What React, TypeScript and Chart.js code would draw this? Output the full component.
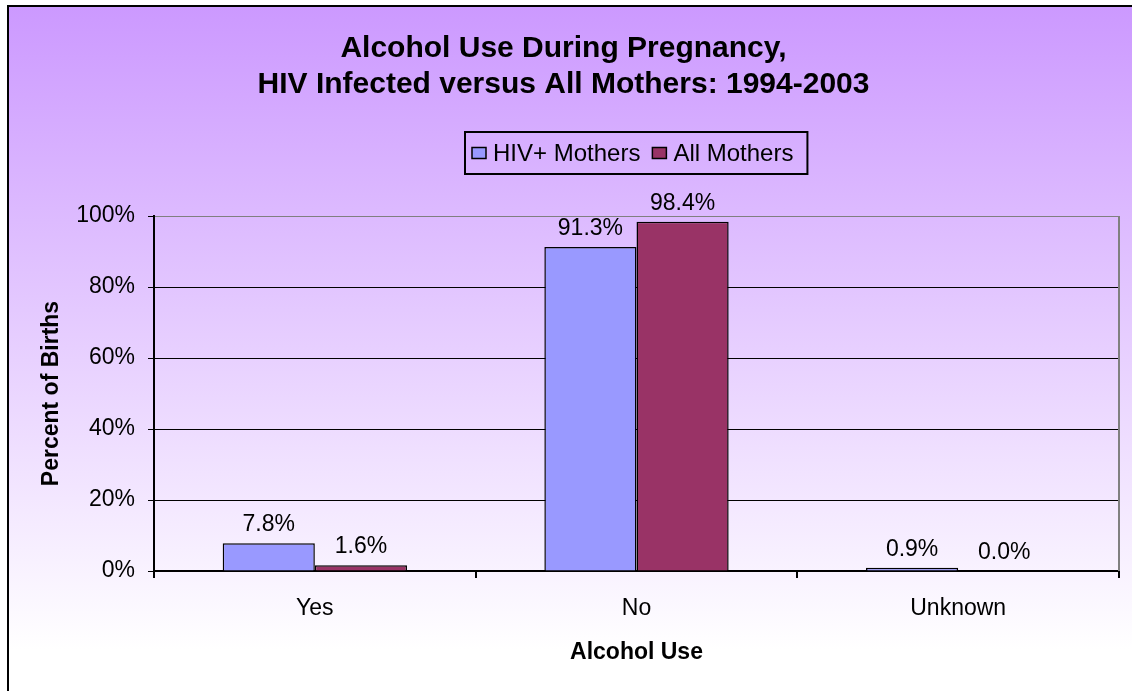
import React, { useEffect, useRef } from 'react';
import { Chart, registerables } from 'chart.js';

Chart.register(...registerables);

const categories = ['Yes', 'No', 'Unknown'];
const hivMothers = [7.8, 91.3, 0.9];
const allMothers = [1.6, 98.4, 0.0];
const seriesNames = ['HIV+ Mothers', 'All Mothers'];
const seriesColors = ['#9999ff', '#993366'];
const titleLines = ['Alcohol Use During Pregnancy,', 'HIV Infected versus All Mothers: 1994-2003'];
const yTickValues = [0, 20, 40, 60, 80, 100];
const xTitle = 'Alcohol Use';
const yTitle = 'Percent of Births';

const FONT = '"Liberation Sans", Arial, Helvetica, sans-serif';

const bgPlugin = {
  id: 'bgPlugin',
  beforeDraw(chart: any) {
    const { ctx, width, height } = chart;
    ctx.save();
    ctx.fillStyle = '#ffffff';
    ctx.fillRect(0, 0, width, height);
    const g = ctx.createLinearGradient(0, 7, 0, 650);
    g.addColorStop(0, '#cc99ff');
    g.addColorStop(1, '#ffffff');
    ctx.fillStyle = g;
    ctx.fillRect(9, 7, width - 9, height - 7);
    ctx.fillStyle = '#000000';
    ctx.fillRect(7, 5, 2, height - 5);
    ctx.fillRect(7, 5, width - 7, 2);
    ctx.restore();
  },
  beforeDatasetsDraw(chart: any) {
    const { ctx, chartArea } = chart;
    ctx.save();
    ctx.strokeStyle = '#808080';
    ctx.lineWidth = 2;
    ctx.beginPath();
    ctx.moveTo(chartArea.right, chartArea.top);
    ctx.lineTo(chartArea.right, chartArea.bottom);
    ctx.stroke();
    ctx.restore();
  },
};

const labelPlugin = {
  id: 'labelPlugin',
  afterDatasetsDraw(chart: any) {
    const { ctx } = chart;
    ctx.save();
    ctx.font = `23px ${FONT}`;
    ctx.fillStyle = '#000000';
    ctx.textAlign = 'center';
    ctx.textBaseline = 'alphabetic';
    chart.data.datasets.forEach((ds: any, di: number) => {
      const meta = chart.getDatasetMeta(di);
      meta.data.forEach((bar: any, i: number) => {
        const v = ds.data[i];
        ctx.fillText(v.toFixed(1) + '%', bar.x, bar.y - 12);
      });
    });
    ctx.restore();
  },
};

const legendPlugin = {
  id: 'boxLegend',
  afterDraw(chart: any) {
    const { ctx, chartArea } = chart;
    ctx.save();
    ctx.font = `24px ${FONT}`;
    const sw = 14, sh = 11, gapT = 7, gapI = 12, padL = 7, padR = 14;
    const items = chart.data.datasets.map((ds: any) => ({
      label: ds.label,
      color: ds.backgroundColor,
      w: ctx.measureText(ds.label).width,
    }));
    const total =
      padL + padR + items.reduce((s: number, it: any) => s + sw + gapT + it.w, 0) + gapI * (items.length - 1);
    const cx = (chartArea.left + chartArea.right) / 2;
    const top = chartArea.top - 84;
    const h = 42;
    const left = Math.round(cx - total / 2);
    ctx.strokeStyle = '#000000';
    ctx.lineWidth = 2;
    ctx.strokeRect(left, top, total, h);
    let x = left + padL;
    const cy = top + h / 2;
    items.forEach((it: any) => {
      ctx.fillStyle = it.color;
      ctx.fillRect(x, cy - sh / 2, sw, sh);
      ctx.lineWidth = 1.5;
      ctx.strokeRect(x, cy - sh / 2, sw, sh);
      ctx.fillStyle = '#000000';
      ctx.textBaseline = 'middle';
      ctx.textAlign = 'left';
      ctx.fillText(it.label, x + sw + gapT, cy + 1);
      x += sw + gapT + it.w + gapI;
    });
    ctx.restore();
  },
};

export default function App() {
  const ref = useRef<HTMLCanvasElement | null>(null);

  useEffect(() => {
    if (!ref.current) return;
    Chart.defaults.font.family = FONT;
    Chart.defaults.color = '#000000';
    const chart = new Chart(ref.current, {
      type: 'bar',
      data: {
        labels: categories,
        datasets: [
          {
            label: seriesNames[0],
            data: hivMothers,
            backgroundColor: seriesColors[0],
            borderColor: '#000000',
            borderWidth: 1.5,
            barPercentage: 1,
            categoryPercentage: 0.573,
          },
          {
            label: seriesNames[1],
            data: allMothers,
            backgroundColor: seriesColors[1],
            borderColor: '#000000',
            borderWidth: 1.5,
            barPercentage: 1,
            categoryPercentage: 0.573,
          },
        ],
      },
      options: {
        responsive: false,
        animation: false,
        devicePixelRatio: 1,
        layout: { padding: { left: 8, right: 13, top: 7, bottom: 0 } },
        plugins: {
          legend: { display: false },
          tooltip: { enabled: false },
          title: {
            display: true,
            text: titleLines,
            color: '#000000',
            font: { size: 30, weight: 'bold', lineHeight: 1.2 },
            padding: { top: 24, bottom: 113 },
          },
        },
        scales: {
          x: {
            type: 'category',
            grid: {
              display: true,
              drawOnChartArea: false,
              offset: true,
              tickLength: 7,
              color: '#000000',
              lineWidth: 2,
            },
            border: { display: true, color: '#000000', width: 2 },
            ticks: { font: { size: 23 }, color: '#000000', padding: 17 },
            title: {
              display: true,
              text: xTitle,
              color: '#000000',
              font: { size: 23, weight: 'bold', lineHeight: 1.2 },
              padding: { top: 0, bottom: 25 },
            },
            afterFit(scale: any) {
              scale.height = 120;
            },
          },
          y: {
            min: 0,
            max: 100,
            afterBuildTicks(scale: any) {
              scale.ticks = yTickValues.map((v) => ({ value: v }));
            },
            grid: {
              color: (c: any) => (c.tick && c.tick.value === 100 ? '#808080' : '#000000'),
              tickColor: '#000000',
              tickLength: 6,
              lineWidth: 1,
            },
            border: { display: true, color: '#000000', width: 2 },
            ticks: {
              font: { size: 23 },
              color: '#000000',
              padding: 13,
              callback: (v: any) => v + '%',
            },
            title: {
              display: true,
              text: yTitle,
              color: '#000000',
              font: { size: 23, weight: 'bold', lineHeight: 1.2 },
              padding: { top: 30, bottom: 0 },
            },
            afterFit(scale: any) {
              scale.width = 146;
            },
          },
        },
      },
      plugins: [bgPlugin, labelPlugin, legendPlugin],
    } as any);
    return () => chart.destroy();
  }, []);

  return (
    <div style={{ position: 'absolute', left: 0, top: 0, width: 1132, height: 691 }}>
      <canvas ref={ref} width={1132} height={691} style={{ display: 'block', width: 1132, height: 691 }} />
    </div>
  );
}
